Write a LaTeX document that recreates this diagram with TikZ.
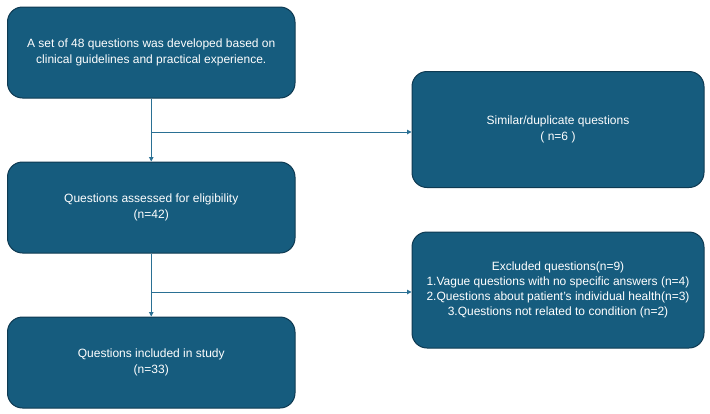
\documentclass[tikz,border=0pt]{standalone}
\usepackage{fontspec}
\setmainfont{Liberation Sans}
\usetikzlibrary{arrows.meta}
\definecolor{boxfill}{RGB}{22,92,126}
\definecolor{boxline}{RGB}{14,58,82}
\definecolor{arrowc}{RGB}{42,112,148}
\begin{document}
\begin{tikzpicture}[x=1pt,y=-1pt,
  flowbox/.style={draw=boxline, line width=1pt, fill=boxfill, rounded corners=15pt,
    text=white, align=center, font=\fontsize{12}{16.5}\selectfont, inner sep=0pt},
  leftbox/.style={flowbox, minimum width=287.5pt, minimum height=91pt},
  rightbox/.style={flowbox, minimum width=292pt, minimum height=116pt},
  conn/.style={draw=arrowc, line width=1pt, -{Triangle[length=4.5pt,width=4.5pt]}}]
\useasboundingbox (0,0) rectangle (710,413);
\node[leftbox] (q48) at (151.25,52.5) {A set of 48 questions was developed based on\\clinical guidelines and practical experience.};
\node[leftbox] (elig) at (151.25,207.5) {Questions assessed for eligibility\\(n=42)};
\node[leftbox] (incl) at (151.25,362.5) {Questions included in study\\(n=33)};
\node[rightbox] (dup) at (558,129.5) {Similar/duplicate questions\\( n=6 )};
\node[rightbox, font=\fontsize{12}{14.8}\selectfont] (excl) at (558,290) {Excluded questions(n=9)\\1.Vague questions with no specific answers (n=4)\\2.Questions about patient's individual health(n=3)\\3.Questions not related to condition (n=2)};
\coordinate (b1) at (151.25,132);
\coordinate (b2) at (151.25,292);
\draw[conn] (q48) -- (elig);
\draw[conn] (b1) -- (b1 -| dup.west);
\draw[conn] (elig) -- (incl);
\draw[conn] (b2) -- (b2 -| excl.west);
\end{tikzpicture}
\end{document}
